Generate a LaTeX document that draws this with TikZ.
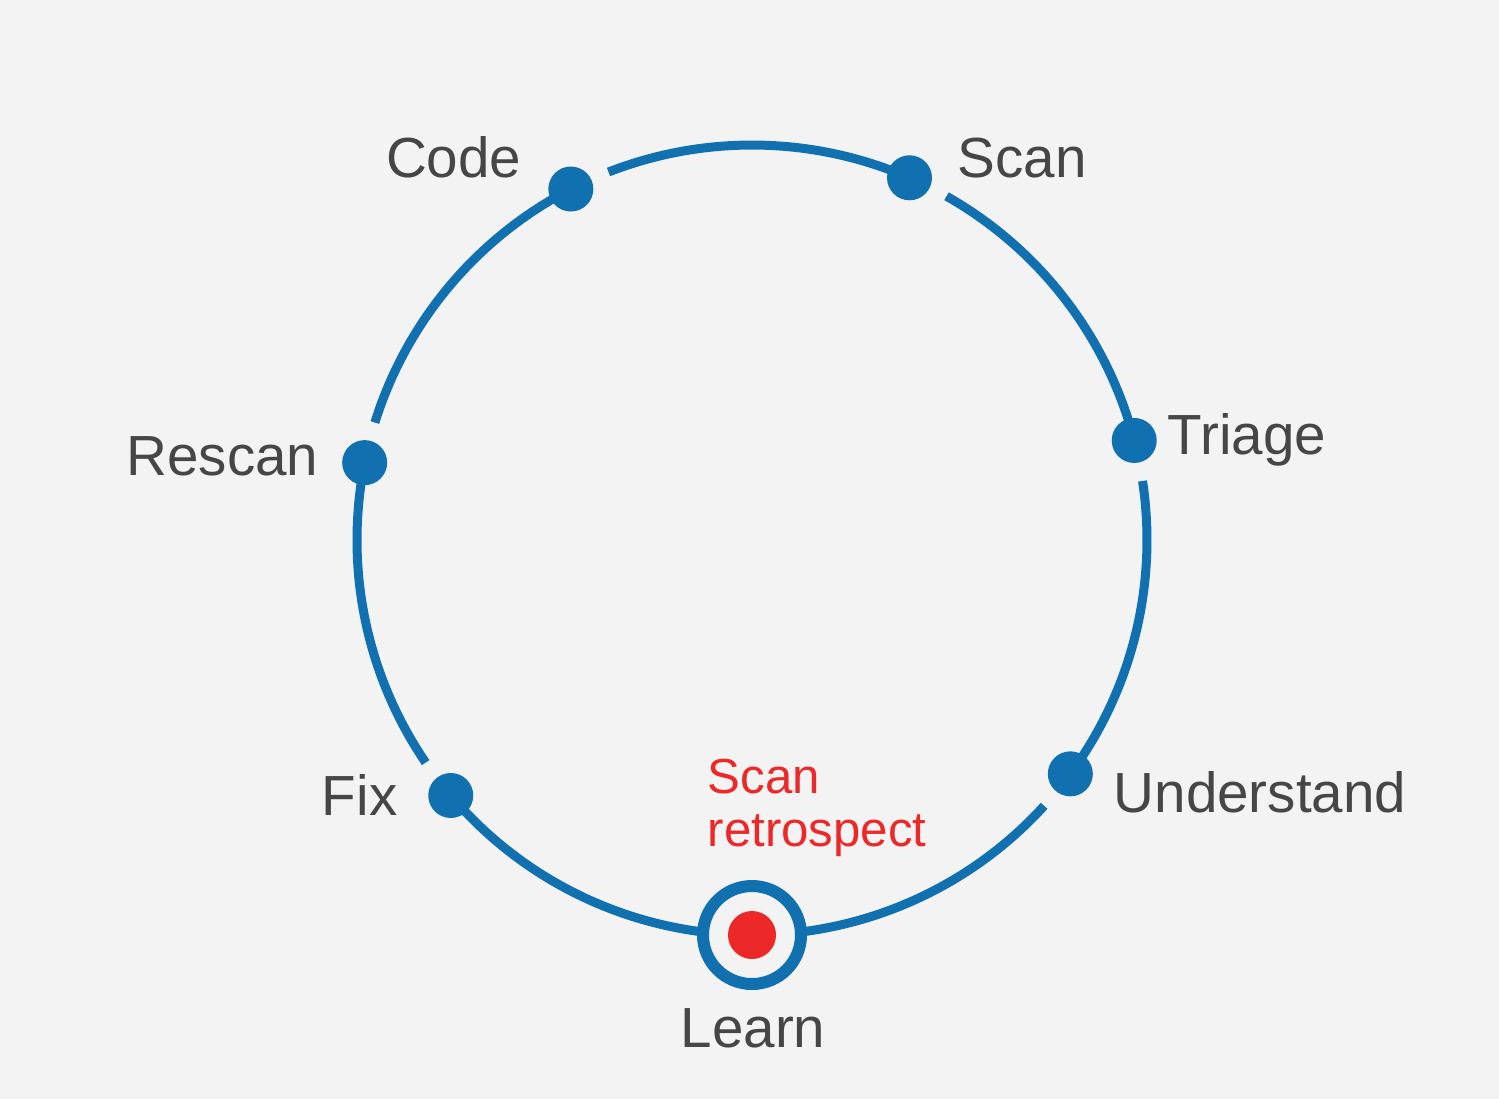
\documentclass[tikz,border=0pt]{standalone}
\usepackage{fontspec}
\setmainfont{Liberation Sans}
\usepackage{xcolor}
\definecolor{cycblue}{RGB}{16,112,176}
\definecolor{retrored}{RGB}{236,40,40}
\definecolor{lblgray}{RGB}{70,70,70}
\definecolor{bggray}{RGB}{243,243,243}

\begin{document}
\begin{tikzpicture}[
  cycle line/.style={draw=cycblue, line width=0.09cm},
  stage dot/.style={circle, fill=cycblue, inner sep=0pt, minimum size=0.45cm},
  stage label/.style={text=lblgray, inner sep=0pt, font=\fontsize{16.1}{20}\selectfont}
]

\fill[bggray] (-7.52,-5.59) rectangle (7.47,5.40);
\useasboundingbox (-7.52,-5.59) rectangle (7.47,5.40);

\coordinate (c) at (0,0);
\def\R{3.95}

% arcs of the cycle, a small gap after each stage
\foreach \a/\b in {117.3/66.5, 66.5/14.6, 14.6/-36.3, -36.3/-90, -90/-139.7, 220.3/168.7, 168.7/117.3}
  \draw[cycle line] ([shift={(\a-6:\R)}]c) arc[start angle=\a-6, end angle=\b, radius=\R];

\foreach \n/\a in {code/117.3, scan/66.5, triage/14.6, underst/-36.3, fix/220.3, rescan/168.7}
  \node[stage dot] (\n) at (\a:\R) {};

% current stage
\node[circle, draw=cycblue, line width=0.12cm, fill=bggray, minimum size=0.98cm, inner sep=0pt] (learn) at (-90:\R) {};
\node[circle, fill=retrored, minimum size=0.48cm, inner sep=0pt] (learndot) at (learn) {};

\node[stage label, anchor=base east] (codetxt) at (-2.30,3.63) {Code};
\node[stage label, anchor=base west] (scantxt) at (2.05,3.63) {Scan};
\node[stage label, anchor=base west] (triagetxt) at (4.15,0.86) {Triage};
\node[stage label, anchor=base west] (understtxt) at (3.61,-2.72) {Understand};
\node[stage label, anchor=base] (learntxt) at (0.01,-5.07) {Learn};
\node[stage label, anchor=base east] (fixtxt) at (-3.54,-2.75) {Fix};
\node[stage label, anchor=base east] (rescantxt) at (-4.33,0.65) {Rescan};

\node[text=retrored, inner sep=0pt, anchor=north west, align=left,
  font=\fontsize{14}{15.1}\selectfont] (retro) at (-0.45,-2.18) {Scan\\retrospect};
\end{tikzpicture}
\end{document}
